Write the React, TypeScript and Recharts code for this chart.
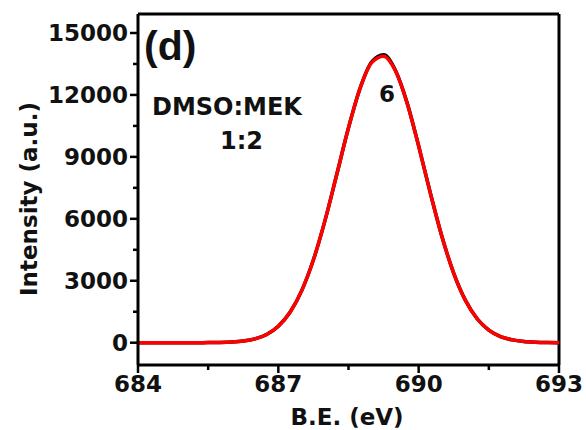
import { LineChart, Line, XAxis, YAxis, ReferenceLine } from 'recharts'

// binding energy (eV) and intensity
const BE = [
  684, 684.25, 684.5, 684.75, 685, 685.25, 685.5, 685.75, 686, 686.25, 686.5, 686.75,
  687, 687.25, 687.5, 687.75, 688, 688.25, 688.5, 688.75, 689, 689.25, 689.5, 689.75,
  690, 690.25, 690.5, 690.75, 691, 691.25, 691.5, 691.75, 692, 692.25, 692.5, 692.75, 693,
]
const FIT = [
  0, 0, 0, 0, 0, 1, 4, 12, 33, 81, 187, 401,
  797, 1471, 2522, 4014, 5937, 8157, 10407, 12332, 13575, 13879, 13180, 11626,
  9524, 7248, 5122, 3362, 2050, 1161, 611, 298, 136, 57, 22, 8, 3,
]
const RAW = [
  0, 0, 0, 0, 0, 1, 4, 12, 33, 81, 187, 401,
  797, 1471, 2522, 4014, 5937, 8157, 10407, 12340, 13610, 13945, 13210, 11640,
  9524, 7248, 5122, 3362, 2050, 1161, 611, 298, 136, 57, 22, 8, 3,
]

const X_MAJOR = [684, 687, 690, 693]
const X_MINOR = [685.5, 688.5, 691.5]
const Y_MAJOR = [0, 3000, 6000, 9000, 12000, 15000]
const Y_MINOR = [1500, 4500, 7500, 10500, 13500]
const X_DOMAIN = [684, 693]
const Y_DOMAIN = [-1080, 15920]

const data = BE.map((be, i) => ({ be, fit: FIT[i], raw: RAW[i] }))

const FONT = '"DejaVu Sans", sans-serif'

const XTick = ({ x, y, payload }: any) => {
  const major = X_MAJOR.includes(payload.value)
  return (
    <g>
      <line x1={x} x2={x} y1={y} y2={y + (major ? 8 : 5)} stroke="#000" strokeWidth={2.5} />
      {major && (
        <text x={x} y={y + 26.5} textAnchor="middle" fontFamily={FONT} fontWeight="bold" fontSize={23} fill="#111">
          {payload.value}
        </text>
      )}
    </g>
  )
}

const YTick = ({ x, y, payload }: any) => {
  const major = Y_MAJOR.includes(payload.value)
  return (
    <g>
      <line x1={x} x2={x - (major ? 8 : 5)} y1={y} y2={y} stroke="#000" strokeWidth={2.5} />
      {major && (
        <text x={x - 10} y={y + 8.4} textAnchor="end" fontFamily={FONT} fontWeight="bold" fontSize={23} fill="#111">
          {payload.value}
        </text>
      )}
    </g>
  )
}

export default function App() {
  return (
    <div style={{ position: 'relative', width: 586, height: 430, background: '#fff' }}>
      <style>{'body{margin:0}'}</style>
      <LineChart width={586} height={430} data={data} margin={{ top: 14, right: 27, bottom: 0, left: 0 }}>
        <XAxis
          dataKey="be"
          type="number"
          domain={X_DOMAIN}
          ticks={[...X_MAJOR, ...X_MINOR]}
          interval={0}
          tick={<XTick />}
          tickLine={false}
          tickSize={0}
          tickMargin={0}
          height={65}
          axisLine={{ stroke: '#000', strokeWidth: 3 }}
          allowDataOverflow
        />
        <YAxis
          type="number"
          domain={Y_DOMAIN}
          ticks={[...Y_MAJOR, ...Y_MINOR]}
          interval={0}
          tick={<YTick />}
          tickLine={false}
          tickSize={0}
          tickMargin={0}
          width={138}
          axisLine={{ stroke: '#000', strokeWidth: 3 }}
          allowDataOverflow
        />
        <ReferenceLine y={Y_DOMAIN[1]} stroke="#000" strokeWidth={3} />
        <ReferenceLine x={X_DOMAIN[1]} stroke="#000" strokeWidth={3} />
        <Line dataKey="raw" type="monotone" stroke="#000" strokeWidth={3.5} dot={false} isAnimationActive={false} />
        <Line dataKey="fit" type="monotone" stroke="#ff0000" strokeWidth={3.5} dot={false} isAnimationActive={false} />
      </LineChart>
      <svg width={586} height={430} style={{ position: 'absolute', left: 0, top: 0, pointerEvents: 'none' }}>
        <text x={144} y={59.5} fontFamily='"Liberation Sans", Arial, sans-serif' fontWeight="bold" fontSize={41} fill="#111">
          (d)
        </text>
        <text x={152} y={115} fontFamily={FONT} fontWeight="bold" fontSize={24} fill="#111">
          DMSO:MEK
        </text>
        <text x={220} y={149} fontFamily={FONT} fontWeight="bold" fontSize={24} fill="#111">
          1:2
        </text>
        <text x={387} y={101.5} textAnchor="middle" fontFamily={FONT} fontWeight="bold" fontSize={23} fill="#111">
          6
        </text>
        <text x={347} y={425} textAnchor="middle" fontFamily={FONT} fontWeight="bold" fontSize={23} fill="#111">
          B.E. (eV)
        </text>
        <text
          x={37}
          y={199}
          transform="rotate(-90 37 199)"
          textAnchor="middle"
          fontFamily={FONT}
          fontWeight="bold"
          fontSize={23}
          fill="#111"
        >
          Intensity (a.u.)
        </text>
      </svg>
    </div>
  )
}
